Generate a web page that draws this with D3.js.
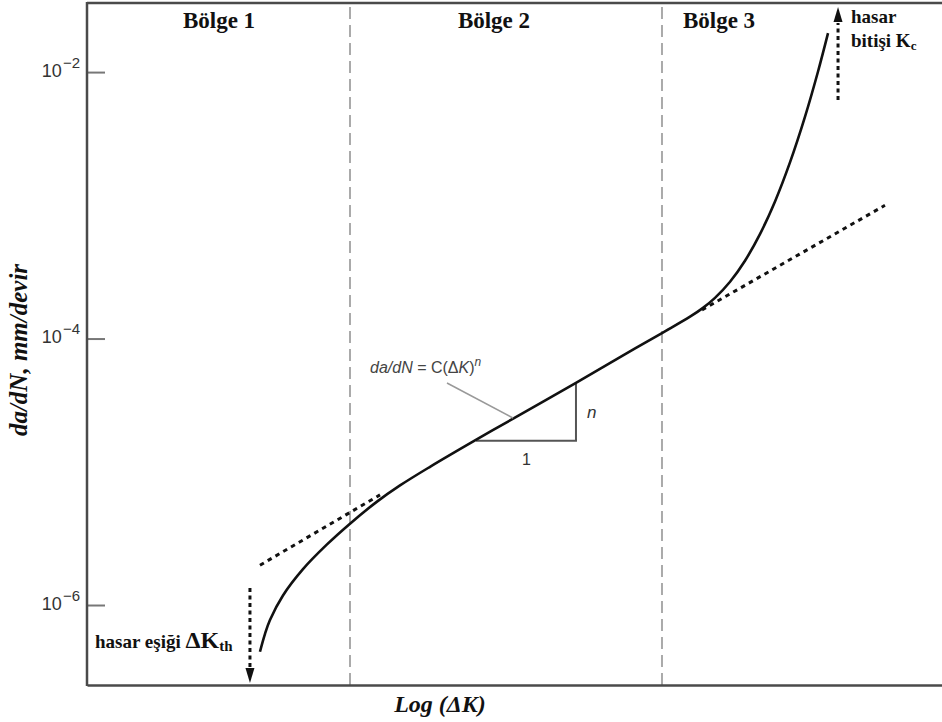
<!DOCTYPE html>
<html><head><meta charset="utf-8">
<script src="https://cdn.jsdelivr.net/npm/d3@7"></script>
<style>body{margin:0;background:#fff}svg{display:block}</style>
</head><body><svg id="c" width="942" height="722"></svg>
<script>
// ---- data (x in Log(ΔK) arbitrary units, y = da/dN in mm/devir) ----
const curveX = [2.023, 2.082, 2.140, 2.292, 2.526, 2.807, 3.076, 3.392, 3.661, 4.012, 4.538, 5.000, 5.719, 6.200, 6.725, 7.053, 7.205, 7.345, 7.521, 7.696, 7.871, 8.047, 8.222, 8.398, 8.550, 8.667];
const curveY = [4.46e-7, 6.07e-7, 7.72e-7, 1.18e-6, 1.86e-6, 2.85e-6, 4.08e-6, 5.97e-6, 7.90e-6, 1.09e-5, 1.72e-5, 2.54e-5, 4.65e-5, 7.04e-5, 1.10e-4, 1.46e-4, 1.70e-4, 2.02e-4, 2.67e-4, 3.84e-4, 6.08e-4, 1.07e-3, 2.10e-3, 4.63e-3, 1.01e-2, 1.96e-2];
const lowerTangentX = [2.023, 3.427];
const lowerTangentY = [1.99e-6, 6.71e-6];
const upperTangentX = [7.193, 9.333];
const upperTangentY = [1.64e-4, 1.00e-3];
const regionBounds = [3.076, 6.725];
const regionLabels = ["Bölge 1", "Bölge 2", "Bölge 3"];
const regionLabelX = [1.544, 4.760, 7.392];
const yTickValues = [1e-2, 1e-4, 1e-6];
const yTickExponents = ["−2", "−4", "−6"];
const slopeTriX = [4.550, 5.719];
const slopeTriY = [1.71e-5, 4.62e-5];
const thresholdX = 1.906, thresholdY = [1.34e-6, 2.60e-7];
const fractureX = 8.784, fractureY = [6.17e-3, 3.08e-2];
const xDomain = [0, 10];
const yDomain = [2.51e-7, 3.30e-2];

// ---- scales ----
const svg = d3.select("#c");
const x = d3.scaleLinear().domain(xDomain).range([87, 942]);
const y = d3.scaleLog().domain(yDomain).range([685, 3]);
const serif = "'Liberation Serif','Times New Roman',serif";
const sans = "'Liberation Sans',Arial,sans-serif";

// region dividers
svg.selectAll("line.region").data(regionBounds).join("line")
  .attr("x1", d => x(d)).attr("x2", d => x(d))
  .attr("y1", y(yDomain[1]) + 4).attr("y2", y(yDomain[0]))
  .attr("stroke", "#aaa").attr("stroke-width", 2).attr("stroke-dasharray", "12,6");

// y axis ticks
const yAxis = d3.axisLeft(y).tickValues(yTickValues).tickSizeInner(-18).tickSizeOuter(0).tickPadding(7).tickFormat(() => "");
const gy = svg.append("g").attr("transform", `translate(${x(xDomain[0])},0)`).call(yAxis);
gy.select(".domain").remove();
gy.selectAll(".tick line").attr("stroke", "#777").attr("stroke-width", 2);
gy.selectAll(".tick text").each(function(d, i) {
  const t = d3.select(this).attr("font-family", sans).attr("fill", "#333").attr("dy", "0.42em");
  t.append("tspan").attr("font-size", 18).text("10");
  t.append("tspan").attr("font-size", 15).attr("dy", "-0.6em").attr("dx", 1).text(yTickExponents[i]);
});

// frame
const gx = svg.append("g").attr("transform", `translate(0,${y(yDomain[0])})`)
  .call(d3.axisBottom(x).ticks(0).tickSizeOuter(0));
gx.select(".domain").attr("stroke", "#4a4a4a").attr("stroke-width", 2.5);
svg.append("line").attr("x1", x(0)).attr("x2", x(10)).attr("y1", 3).attr("y2", 3)
  .attr("stroke", "#4a4a4a").attr("stroke-width", 2.5);
svg.append("line").attr("x1", x(0)).attr("x2", x(0)).attr("y1", 2).attr("y2", y(yDomain[0]) + 1)
  .attr("stroke", "#4a4a4a").attr("stroke-width", 2.5);

// tangent dotted lines
const line = d3.line().x(d => x(d[0])).y(d => y(d[1]));
[[lowerTangentX, lowerTangentY], [upperTangentX, upperTangentY]].forEach(([xs, ys]) => {
  svg.append("path").attr("d", line(xs.map((v, i) => [v, ys[i]])))
    .attr("fill", "none").attr("stroke", "#111").attr("stroke-width", 3).attr("stroke-dasharray", "4.5,4.5");
});

// slope triangle
svg.append("path")
  .attr("d", line([[slopeTriX[0], slopeTriY[0]], [slopeTriX[1], slopeTriY[0]], [slopeTriX[1], slopeTriY[1]]]))
  .attr("fill", "none").attr("stroke", "#555").attr("stroke-width", 2);
svg.append("text").attr("x", (x(slopeTriX[0]) + x(slopeTriX[1])) / 2 - 4).attr("y", y(slopeTriY[0]) + 24)
  .attr("font-family", sans).attr("font-size", 16).attr("fill", "#333").text("1");
svg.append("text").attr("x", x(slopeTriX[1]) + 11).attr("y", (y(slopeTriY[0]) + y(slopeTriY[1])) / 2 + 6)
  .attr("font-family", sans).attr("font-style", "italic").attr("font-size", 17).attr("fill", "#333").text("n");

// main curve
svg.append("path").attr("d", d3.line().x(d => x(d[0])).y(d => y(d[1])).curve(d3.curveCatmullRom.alpha(0.5))(curveX.map((v, i) => [v, curveY[i]])))
  .attr("fill", "none").attr("stroke", "#111").attr("stroke-width", 2.6);

// formula label & leader
svg.append("line").attr("x1", 447).attr("y1", 383).attr("x2", 513).attr("y2", 418)
  .attr("stroke", "#999").attr("stroke-width", 1.5);
const f = svg.append("text").attr("x", 370).attr("y", 373).attr("font-family", sans).attr("font-size", 16).attr("fill", "#444");
f.append("tspan").attr("font-style", "italic").text("da/dN");
f.append("tspan").text(" = C(Δ");
f.append("tspan").attr("font-style", "italic").text("K");
f.append("tspan").text(")");
f.append("tspan").attr("font-style", "italic").attr("font-size", 12).attr("dy", -7).text("n");

// arrows
function dottedArrow(xv, yFrom, yTo) {
  const x0 = x(xv), y0 = y(yFrom), y1 = y(yTo);
  const dir = y1 > y0 ? 1 : -1;
  svg.append("line").attr("x1", x0).attr("x2", x0).attr("y1", y0).attr("y2", y1 - dir * 16)
    .attr("stroke", "#111").attr("stroke-width", 3).attr("stroke-dasharray", "4,3.5");
  svg.append("path").attr("d", `M${x0 - 4.5},${y1 - dir * 15}L${x0 + 4.5},${y1 - dir * 15}L${x0},${y1}Z`).attr("fill", "#111");
}
dottedArrow(thresholdX, thresholdY[0], thresholdY[1]);
dottedArrow(fractureX, fractureY[0], fractureY[1]);

// region labels
svg.selectAll("text.region").data(regionLabels).join("text")
  .attr("x", (d, i) => x(regionLabelX[i])).attr("y", 28).attr("text-anchor", "middle")
  .attr("font-family", serif).attr("font-weight", "bold").attr("font-size", 23).attr("fill", "#111").text(d => d);

// annotations
const t1 = svg.append("text").attr("x", 95).attr("y", 648).attr("font-family", serif).attr("font-weight", "bold").attr("fill", "#111");
t1.append("tspan").attr("font-size", 19).text("hasar eşiği ");
t1.append("tspan").attr("font-size", 24).text("ΔK");
t1.append("tspan").attr("font-size", 15).attr("dy", 3).text("th");

svg.append("text").attr("x", 851).attr("y", 23).attr("font-family", serif).attr("font-weight", "bold")
  .attr("font-size", 19).attr("fill", "#111").text("hasar");
const t2 = svg.append("text").attr("x", 851).attr("y", 47).attr("font-family", serif).attr("font-weight", "bold").attr("fill", "#111");
t2.append("tspan").attr("font-size", 19).text("bitişi K");
t2.append("tspan").attr("font-size", 13).attr("dy", 3).text("c");

// axis titles
svg.append("text").attr("x", 440).attr("y", 712).attr("text-anchor", "middle")
  .attr("font-family", serif).attr("font-weight", "bold").attr("font-style", "italic").attr("font-size", 24)
  .attr("fill", "#111").text("Log (ΔK)");
svg.append("text").attr("transform", "translate(27,350) rotate(-90)").attr("text-anchor", "middle")
  .attr("font-family", serif).attr("font-weight", "bold").attr("font-style", "italic").attr("font-size", 25)
  .attr("fill", "#111").text("da/dN, mm/devir");
</script></body></html>
